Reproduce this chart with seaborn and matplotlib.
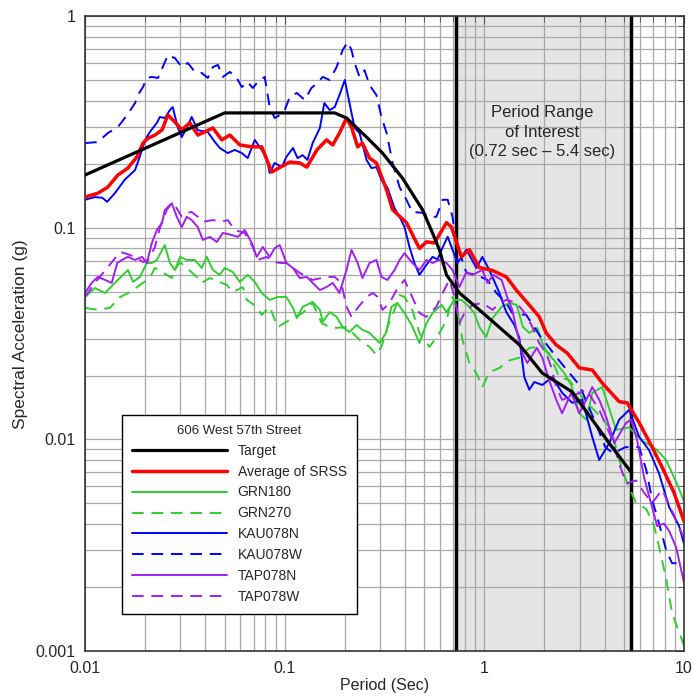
import matplotlib
matplotlib.use("Agg")
import matplotlib.pyplot as plt
import matplotlib.ticker as ticker
import seaborn as sns

# periods (sec) and spectral accelerations (g)
target_T = [0.01, 0.05, 0.178, 0.204, 0.257, 0.309, 0.389, 0.490, 0.550, 0.596,
            0.646, 0.750, 0.944, 1.50, 1.95, 2.75, 3.47, 4.22, 5.43]
target_sa = [0.178, 0.35, 0.35, 0.331, 0.269, 0.226, 0.172, 0.122, 0.0946, 0.0787,
             0.060, 0.0493, 0.041, 0.028, 0.0206, 0.0168, 0.0124, 0.0096, 0.0070]

avg_T = [0.01, 0.0116, 0.013, 0.0146, 0.0164, 0.0182, 0.0195, 0.0207, 0.0224, 0.0243,
         0.026, 0.0282, 0.0305, 0.0335, 0.0367, 0.0437, 0.0484, 0.0531, 0.0596, 0.0684,
         0.0767, 0.0861, 0.1, 0.106, 0.119, 0.129, 0.145, 0.162, 0.174, 0.188,
         0.204, 0.216, 0.232, 0.245, 0.266, 0.288, 0.324, 0.347, 0.407, 0.473,
         0.513, 0.562, 0.646, 0.684, 0.767, 0.841, 0.944, 1.096, 1.288, 1.445,
         1.679, 1.884, 2.04, 2.29, 2.60, 2.99, 3.47, 3.89, 4.73, 5.19,
         5.96, 6.92, 7.76, 8.91, 10]
avg_sa = [0.140, 0.146, 0.156, 0.178, 0.192, 0.217, 0.252, 0.266, 0.275, 0.291,
          0.342, 0.317, 0.291, 0.314, 0.275, 0.297, 0.261, 0.275, 0.247, 0.242,
          0.242, 0.184, 0.199, 0.205, 0.203, 0.194, 0.234, 0.261, 0.247, 0.281,
          0.331, 0.300, 0.242, 0.252, 0.214, 0.203, 0.151, 0.122, 0.106, 0.080,
          0.086, 0.085, 0.106, 0.101, 0.073, 0.079, 0.065, 0.063, 0.0587, 0.0509,
          0.0432, 0.038, 0.0319, 0.028, 0.0256, 0.0218, 0.0213, 0.0185, 0.0151, 0.0149,
          0.012, 0.0092, 0.0074, 0.0056, 0.0041]

grn180_T = [0.01, 0.0112, 0.0126, 0.0141, 0.0155, 0.0164, 0.0174, 0.0188, 0.0204, 0.0216,
            0.0229, 0.0243, 0.0251, 0.0266, 0.0282, 0.0299, 0.0323, 0.0355, 0.0384, 0.0407,
            0.0437, 0.0473, 0.0501, 0.0550, 0.0596, 0.0653, 0.0708, 0.0767, 0.0841, 0.0923,
            0.102, 0.110, 0.115, 0.123, 0.138, 0.150, 0.155, 0.168, 0.182, 0.195,
            0.211, 0.229, 0.245, 0.266, 0.288, 0.299, 0.323, 0.342, 0.367, 0.398,
            0.432, 0.473, 0.513, 0.550, 0.610, 0.646, 0.708, 0.767, 0.822, 0.891,
            0.944, 1.02, 1.10, 1.22, 1.33, 1.45, 1.56, 1.68, 1.84, 1.95,
            2.07, 2.24, 2.51, 2.72, 2.99, 3.24, 3.47, 3.89, 4.57, 5.31,
            6.15, 7.24, 8.13, 9.12, 10]
grn180_sa = [0.0472, 0.052, 0.0493, 0.055, 0.060, 0.0633, 0.0556, 0.0587, 0.0683, 0.0683,
             0.0706, 0.0787, 0.083, 0.0683, 0.0633, 0.073, 0.0706, 0.0706, 0.0647, 0.073,
             0.0633, 0.060, 0.0647, 0.0619, 0.0556, 0.060, 0.0556, 0.0493, 0.0457, 0.0472,
             0.0472, 0.0419, 0.0375, 0.0424, 0.0447, 0.041, 0.036, 0.040, 0.038, 0.034,
             0.0322, 0.0348, 0.033, 0.0319, 0.0296, 0.0286, 0.0322, 0.0424, 0.0442, 0.0396,
             0.0348, 0.0286, 0.0355, 0.0396, 0.0433, 0.040, 0.0457, 0.0457, 0.0433, 0.0396,
             0.034, 0.0305, 0.0375, 0.0424, 0.0442, 0.0433, 0.034, 0.0319, 0.0337, 0.0286,
             0.0256, 0.0236, 0.0206, 0.0181, 0.0133, 0.0124, 0.0166, 0.0177, 0.0111, 0.0114,
             0.0099, 0.0090, 0.0080, 0.0063, 0.0051]

grn270_T = [0.01, 0.0116, 0.0133, 0.0150, 0.0168, 0.0195, 0.0211, 0.0224, 0.0243, 0.0257,
            0.0272, 0.0282, 0.0299, 0.0363, 0.0384, 0.0422, 0.0513, 0.0550, 0.0617, 0.0646,
            0.0724, 0.0767, 0.0841, 0.0923, 0.102, 0.110, 0.123, 0.138, 0.153, 0.168,
            0.182, 0.204, 0.219, 0.237, 0.266, 0.288, 0.305, 0.327, 0.355, 0.376,
            0.398, 0.435, 0.473, 0.531, 0.596, 0.646, 0.692, 0.733, 0.777, 0.841,
            0.912, 0.977, 1.06, 1.19, 1.33, 1.50, 1.68, 1.88, 2.11, 2.37,
            2.66, 3.16, 3.76, 4.33, 4.73, 5.13, 5.75, 6.46, 7.08, 7.50,
            8.13, 8.71, 9.66, 10]
grn270_sa = [0.0419, 0.041, 0.0419, 0.0472, 0.0498, 0.055, 0.058, 0.0647, 0.0619, 0.060,
             0.058, 0.0633, 0.069, 0.0587, 0.055, 0.058, 0.0538, 0.0498, 0.0525, 0.0457,
             0.0424, 0.0388, 0.0424, 0.034, 0.036, 0.0375, 0.0396, 0.0442, 0.0355, 0.034,
             0.0337, 0.034, 0.0319, 0.0296, 0.0274, 0.0251, 0.0274, 0.034, 0.041, 0.0482,
             0.0472, 0.041, 0.0319, 0.0274, 0.0319, 0.0367, 0.0472, 0.041, 0.0296, 0.023,
             0.0206, 0.0177, 0.0208, 0.0218, 0.0236, 0.0244, 0.0271, 0.0274, 0.0256, 0.0197,
             0.0191, 0.0154, 0.013, 0.0111, 0.0080, 0.0064, 0.0050, 0.0047, 0.0039, 0.0031,
             0.0022, 0.00151, 0.00116, 0.00106]

kau078n_T = [0.01, 0.0112, 0.0122, 0.0129, 0.0141, 0.0158, 0.0178, 0.0188, 0.0200, 0.0211,
             0.0229, 0.0237, 0.0251, 0.0266, 0.0275, 0.0291, 0.0305, 0.0323, 0.0342, 0.0367,
             0.0412, 0.0447, 0.0473, 0.0519, 0.0562, 0.0610, 0.0653, 0.0708, 0.0767, 0.0813,
             0.0841, 0.0891, 0.0966, 0.102, 0.110, 0.116, 0.123, 0.130, 0.138, 0.150,
             0.158, 0.168, 0.178, 0.188, 0.200, 0.211, 0.224, 0.237, 0.257, 0.272,
             0.288, 0.305, 0.327, 0.355, 0.376, 0.398, 0.422, 0.447, 0.473, 0.513,
             0.550, 0.583, 0.618, 0.655, 0.692, 0.733, 0.813, 0.912, 0.977, 1.059,
             1.189, 1.288, 1.413, 1.496, 1.585, 1.679, 1.778, 1.95, 2.188, 2.455,
             2.754, 3.09, 3.467, 3.758, 4.217, 4.732, 5.309, 5.957, 6.683, 7.499,
             8.414, 9.441, 10]
kau078n_sa = [0.136, 0.140, 0.139, 0.133, 0.146, 0.169, 0.188, 0.217, 0.261, 0.284,
              0.314, 0.335, 0.331, 0.361, 0.373, 0.300, 0.269, 0.297, 0.335, 0.290,
              0.284, 0.255, 0.239, 0.226, 0.234, 0.226, 0.214, 0.261, 0.234, 0.214,
              0.182, 0.203, 0.194, 0.217, 0.239, 0.214, 0.221, 0.210, 0.252, 0.297,
              0.390, 0.361, 0.373, 0.425, 0.501, 0.390, 0.297, 0.281, 0.210, 0.192,
              0.194, 0.169, 0.155, 0.124, 0.113, 0.101, 0.081, 0.068, 0.060, 0.067,
              0.073, 0.071, 0.081, 0.091, 0.079, 0.0683, 0.079, 0.0647, 0.073, 0.0633,
              0.0493, 0.040, 0.0348, 0.0302, 0.0197, 0.0172, 0.0187, 0.0181, 0.0197, 0.0166,
              0.0149, 0.0154, 0.0103, 0.0080, 0.0096, 0.0124, 0.0138, 0.0103, 0.0089, 0.0069,
              0.0048, 0.0039, 0.0032]

kau078w_T = [0.01, 0.0116, 0.0130, 0.0146, 0.0164, 0.0178, 0.0184, 0.0195, 0.0204, 0.0216,
             0.0232, 0.0245, 0.0260, 0.0282, 0.0305, 0.0327, 0.0355, 0.0384, 0.0412, 0.0437,
             0.0463, 0.0490, 0.0531, 0.0575, 0.0610, 0.0653, 0.0692, 0.0733, 0.0794, 0.0841,
             0.0891, 0.0966, 0.1, 0.106, 0.115, 0.126, 0.136, 0.146, 0.155, 0.168,
             0.182, 0.195, 0.207, 0.216, 0.224, 0.237, 0.251, 0.266, 0.288, 0.305,
             0.324, 0.347, 0.376, 0.407, 0.435, 0.490, 0.531, 0.575, 0.618, 0.655,
             0.692, 0.725, 0.813, 0.912, 1.035, 1.148, 1.288, 1.38, 1.62, 1.884,
             2.37, 2.99, 3.55, 4.03, 4.42, 5.08, 5.96, 6.46, 6.92, 7.50,
             8.13, 8.71, 9.44, 10]
kau078w_sa = [0.252, 0.255, 0.281, 0.300, 0.346, 0.390, 0.425, 0.464, 0.512, 0.518,
              0.512, 0.577, 0.657, 0.636, 0.577, 0.603, 0.547, 0.541, 0.512, 0.577,
              0.590, 0.518, 0.547, 0.512, 0.464, 0.490, 0.459, 0.490, 0.518, 0.373,
              0.331, 0.346, 0.361, 0.416, 0.435, 0.403, 0.459, 0.485, 0.518, 0.501,
              0.577, 0.694, 0.757, 0.694, 0.603, 0.518, 0.557, 0.474, 0.425, 0.335,
              0.281, 0.203, 0.156, 0.136, 0.119, 0.118, 0.113, 0.113, 0.136, 0.136,
              0.113, 0.085, 0.0613, 0.060, 0.0568, 0.0493, 0.0442, 0.0396, 0.0388, 0.0312,
              0.0236, 0.0181, 0.0124, 0.0092, 0.0086, 0.0092, 0.0092, 0.0072, 0.0052, 0.0040,
              0.0030, 0.0026, 0.0026, 0.0025]

tap078n_T = [0.01, 0.0108, 0.0116, 0.0126, 0.0136, 0.0145, 0.0153, 0.0164, 0.0178, 0.0193,
             0.0204, 0.0216, 0.0229, 0.0243, 0.0251, 0.0272, 0.0288, 0.0305, 0.0323, 0.0342,
             0.0367, 0.0389, 0.0422, 0.0457, 0.0490, 0.0543, 0.0582, 0.0631, 0.0684, 0.0724,
             0.0777, 0.0841, 0.0891, 0.0944, 0.102, 0.110, 0.119, 0.129, 0.138, 0.150,
             0.162, 0.174, 0.188, 0.204, 0.216, 0.232, 0.245, 0.266, 0.288, 0.305,
             0.327, 0.355, 0.376, 0.398, 0.432, 0.473, 0.513, 0.550, 0.596, 0.646,
             0.692, 0.750, 0.813, 0.871, 0.977, 1.035, 1.11, 1.22, 1.30, 1.38,
             1.46, 1.55, 1.64, 1.83, 1.95, 2.11, 2.29, 2.45, 2.72, 2.99,
             3.24, 3.47, 3.76, 4.07, 4.47, 5.13, 5.43, 5.81, 6.31, 6.83,
             7.33, 7.94, 8.41, 9.12, 10]
tap078n_sa = [0.0493, 0.055, 0.0587, 0.0568, 0.055, 0.0683, 0.0706, 0.073, 0.0706, 0.073,
              0.0683, 0.0849, 0.0978, 0.1056, 0.1216, 0.131, 0.113, 0.101, 0.113, 0.109,
              0.101, 0.0878, 0.0907, 0.0859, 0.0947, 0.0927, 0.0907, 0.0978, 0.085, 0.073,
              0.0813, 0.073, 0.0804, 0.083, 0.0683, 0.0647, 0.058, 0.0587, 0.055, 0.0509,
              0.0526, 0.055, 0.0493, 0.0633, 0.0787, 0.0683, 0.058, 0.0683, 0.0706, 0.0587,
              0.0568, 0.0633, 0.0706, 0.076, 0.069, 0.0633, 0.0706, 0.0683, 0.0706, 0.0683,
              0.0633, 0.0526, 0.0619, 0.060, 0.0633, 0.055, 0.060, 0.0568, 0.0472, 0.041,
              0.0319, 0.0256, 0.023, 0.0271, 0.0244, 0.0191, 0.0154, 0.0133, 0.0166, 0.0133,
              0.0154, 0.0177, 0.0154, 0.0128, 0.0096, 0.012, 0.0124, 0.010, 0.0066, 0.0050,
              0.0039, 0.0040, 0.0037, 0.0031, 0.0021]

tap078w_T = [0.01, 0.0112, 0.0123, 0.0150, 0.0158, 0.0178, 0.0195, 0.0207, 0.0224, 0.0237,
             0.0245, 0.0257, 0.0272, 0.0282, 0.0305, 0.0323, 0.0342, 0.0367, 0.0389, 0.0437,
             0.0484, 0.0519, 0.0562, 0.0631, 0.0692, 0.0733, 0.0813, 0.0871, 0.0966, 0.102,
             0.119, 0.138, 0.162, 0.178, 0.192, 0.204, 0.216, 0.232, 0.257, 0.276,
             0.292, 0.309, 0.335, 0.363, 0.398, 0.435, 0.473, 0.513, 0.575, 0.618,
             0.668, 0.708, 0.750, 0.794, 0.871, 0.977, 1.10, 1.19, 1.29, 1.45,
             1.62, 1.74, 1.88, 2.04, 2.16, 2.29, 2.45, 2.82, 3.24, 3.76,
             4.37, 4.73, 5.13, 5.75, 6.31, 6.92, 7.76, 8.71, 10]
tap078w_sa = [0.0472, 0.055, 0.0613, 0.077, 0.076, 0.073, 0.069, 0.0706, 0.0813, 0.1,
              0.109, 0.122, 0.131, 0.128, 0.113, 0.118, 0.119, 0.113, 0.107, 0.109,
              0.107, 0.109, 0.0978, 0.0947, 0.0813, 0.0706, 0.073, 0.069, 0.0683, 0.0683,
              0.0613, 0.0568, 0.0587, 0.0587, 0.055, 0.0424, 0.038, 0.0419, 0.0472, 0.0493,
              0.0472, 0.041, 0.0442, 0.0509, 0.0568, 0.0472, 0.0396, 0.038, 0.0424, 0.0493,
              0.0568, 0.0472, 0.0355, 0.0396, 0.0433, 0.0442, 0.041, 0.0442, 0.0457, 0.0442,
              0.0388, 0.034, 0.0286, 0.0256, 0.022, 0.0177, 0.0154, 0.0162, 0.0172, 0.0138,
              0.010, 0.0077, 0.0062, 0.0064, 0.0056, 0.0050, 0.0058, 0.0046, 0.0034]

period_range = [0.72, 5.4]
x_ticks = [0.01, 0.1, 1, 10]
y_ticks = [0.001, 0.01, 0.1, 1]

dash = (0, (6, 4))
series = [
    # name, periods, sa, color, linestyle, width, zorder
    ("GRN180", grn180_T, grn180_sa, "#33cc33", "-", 1.4, 2),
    ("GRN270", grn270_T, grn270_sa, "#33cc33", dash, 1.4, 2),
    ("KAU078N", kau078n_T, kau078n_sa, "#0000ff", "-", 1.4, 2),
    ("KAU078W", kau078w_T, kau078w_sa, "#0000ff", dash, 1.4, 2),
    ("TAP078N", tap078n_T, tap078n_sa, "#a020f0", "-", 1.4, 2),
    ("TAP078W", tap078w_T, tap078w_sa, "#a020f0", dash, 1.4, 2),
    ("Average of SRSS", avg_T, avg_sa, "#ff0000", "-", 2.5, 3),
    ("Target", target_T, target_sa, "#000000", "-", 2.3, 4),
]
legend_order = ["Target", "Average of SRSS", "GRN180", "GRN270",
                "KAU078N", "KAU078W", "TAP078N", "TAP078W"]

sns.set_style("white")
plt.rcParams['font.family'] = ['Liberation Sans', 'DejaVu Sans']

fig = plt.figure(figsize=(6.93, 6.99), dpi=100)
ax = fig.add_axes([0.1227, 0.0687, 0.8644, 0.9077])
ax.set_xscale("log")
ax.set_yscale("log")

ax.axvspan(period_range[0], period_range[1], color="#e5e5e5", lw=0, zorder=0.1)
for p in period_range:
    ax.axvline(p, color="black", lw=2.5, zorder=1.5)

for name, T, sa, c, ls, lw, z in series:
    sns.lineplot(x=T, y=sa, ax=ax, color=c, linestyle=ls, lw=lw, label=name,
                 estimator=None, sort=False, zorder=z)

ax.set_xlim(0.01, 10)
ax.set_ylim(0.001, 1)
ax.xaxis.set_major_locator(ticker.FixedLocator(x_ticks))
ax.yaxis.set_major_locator(ticker.FixedLocator(y_ticks))
ax.xaxis.set_minor_locator(ticker.LogLocator(base=10, subs=range(2, 10), numticks=20))
ax.yaxis.set_minor_locator(ticker.LogLocator(base=10, subs=range(2, 10), numticks=20))
ax.xaxis.set_major_formatter(ticker.FuncFormatter(lambda v, _: f"{v:g}"))
ax.yaxis.set_major_formatter(ticker.FuncFormatter(lambda v, _: f"{v:g}"))
ax.xaxis.set_minor_formatter(ticker.NullFormatter())
ax.yaxis.set_minor_formatter(ticker.NullFormatter())
ax.set_axisbelow(True)
ax.grid(True, which="both", color="#a8a8a8", lw=0.9)
ax.tick_params(which="both", direction="in", top=True, right=True, labelsize=11.5,
               color="#555555", pad=7)
ax.tick_params(which="major", length=6)
ax.tick_params(which="minor", length=4)
for s in ax.spines.values():
    s.set_color("#333333")
    s.set_linewidth(1.2)

ax.text(1.95, 0.284, "Period Range\nof Interest\n(0.72 sec \u2013 5.4 sec)",
        ha="center", va="center", fontsize=12, linespacing=1.35, zorder=6)

ax.set_xlabel("Period (Sec)", fontsize=11.5, labelpad=2)
ax.set_ylabel("Spectral Acceleration (g)", fontsize=12.5, labelpad=5)

handles, labels = ax.get_legend_handles_labels()
lookup = dict(zip(labels, handles))
leg = ax.legend([lookup[n] for n in legend_order], legend_order,
                title="606 West 57th Street", loc="lower left",
                bbox_to_anchor=(0.062, 0.058), borderaxespad=0, frameon=True,
                fancybox=False, edgecolor="black", framealpha=1, handlelength=6.8,
                fontsize=10, title_fontsize=9.5, labelspacing=0.5, borderpad=0.72)
leg.get_frame().set_linewidth(1.0)
leg.set_zorder(10)

fig.savefig("out.png", dpi=100)
